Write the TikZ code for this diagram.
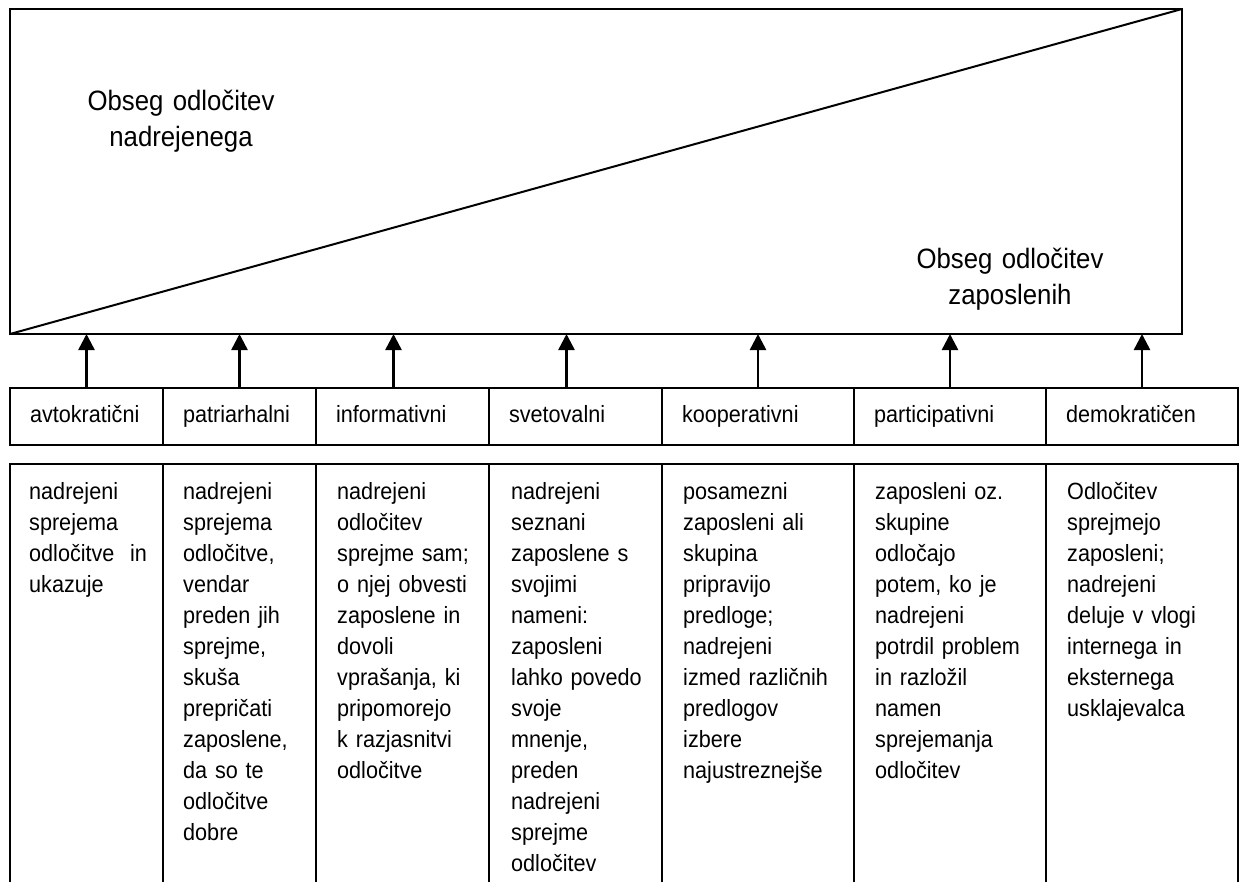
\documentclass[tikz,border=0pt]{standalone}
\usepackage{fontspec}
\setmainfont{Liberation Sans}[FakeStretch=0.92,WordSpace=0.85]
\usepackage{tikz}
\usetikzlibrary{positioning}
\usetikzlibrary{arrows.meta}
\tikzstyle{okvir} = [draw, line width=2pt, inner sep=0pt, outer sep=0pt]
\tikzstyle{slog} = [okvir, minimum height=57pt, inner xsep=20pt, text height=16pt, text depth=5pt, align=left, font=\fontsize{23.5}{31}\selectfont]
\tikzstyle{ozka} = [text width=113pt]
\tikzstyle{srednja} = [text width=133pt]
\tikzstyle{siroka} = [text width=152pt]
\tikzstyle{opis} = [okvir, minimum height=440pt, anchor=north west]
\tikzstyle{besedilo} = [anchor=base west, inner sep=0pt, align=left, text width=165pt, font=\fontsize{23.5}{31}\selectfont]
\tikzstyle{obsegtxt} = [anchor=base, inner sep=0pt, align=center, text width=240pt, font=\fontsize{28}{36}\selectfont]
\tikzstyle{puscica} = [-{Triangle[width=16pt,length=16pt]}, line width=2.5pt]

\begin{document}
\begin{tikzpicture}[x=1pt,y=-1pt]
    \useasboundingbox (0,0) rectangle (1242,881);
    \clip (0,0) rectangle (1242,881);

    % obseg odlocitev
    \node [okvir, minimum width=1172pt, minimum height=325pt] (obseg) at (596,171.5) {};
    \draw [line width=2pt] (obseg.south west) -- (obseg.north east);
    \node [obsegtxt] (nadr) at (181,110) {Obseg odločitev\\nadrejenega};
    \node [obsegtxt] (zap) at (1010,268) {Obseg odločitev\\zaposlenih};

    % slogi vodenja
    \node [slog, ozka, anchor=north west] (avt) at (10,388) {avtokratični};
    \node [slog, ozka, right=0pt of avt] (pat) {patriarhalni};
    \node [slog, srednja, right=0pt of pat] (inf) {informativni};
    \node [slog, srednja, right=0pt of inf] (sve) {svetovalni};
    \node [slog, siroka, right=0pt of sve] (koo) {kooperativni};
    \node [slog, siroka, right=0pt of koo] (par) {participativni};
    \node [slog, siroka, right=0pt of par] (dem) {demokratičen};

    \draw [puscica] (avt.north) -- (avt.north |- obseg.south);
    \draw [puscica] (pat.north) -- (pat.north |- obseg.south);
    \draw [puscica] ([xshift=-9pt]inf.north) -- ([xshift=-9pt]inf.north |- obseg.south);
    \draw [puscica] ([xshift=-9pt]sve.north) -- ([xshift=-9pt]sve.north |- obseg.south);
    \draw [puscica] (koo.north) -- (koo.north |- obseg.south);
    \draw [puscica] (par.north) -- (par.north |- obseg.south);
    \draw [puscica] (dem.north) -- (dem.north |- obseg.south);

    % opisi
    \node [opis, minimum width=153pt] (oavt) at (10,464) {};
    \node [opis, minimum width=153pt, right=0pt of oavt] (opat) {};
    \node [opis, minimum width=173pt, right=0pt of opat] (oinf) {};
    \node [opis, minimum width=173pt, right=0pt of oinf] (osve) {};
    \node [opis, minimum width=192pt, right=0pt of osve] (okoo) {};
    \node [opis, minimum width=192pt, right=0pt of okoo] (opar) {};
    \node [opis, minimum width=192pt, right=0pt of opar] (odem) {};

    \node [besedilo] (tavt) at ([shift={(19,35)}]oavt.north west) {nadrejeni\\sprejema\\odločitve\ \ in\\ukazuje};
    \node [besedilo] (tpat) at ([shift={(20,35)}]opat.north west) {nadrejeni\\sprejema\\odločitve,\\vendar\\preden jih\\sprejme,\\skuša\\prepričati\\zaposlene,\\da so te\\odločitve\\dobre};
    \node [besedilo] (tinf) at ([shift={(21,35)}]oinf.north west) {nadrejeni\\odločitev\\sprejme sam;\\o njej obvesti\\zaposlene in\\dovoli\\vprašanja, ki\\pripomorejo\\k razjasnitvi\\odločitve};
    \node [besedilo] (tsve) at ([shift={(22,35)}]osve.north west) {nadrejeni\\seznani\\zaposlene s\\svojimi\\nameni:\\zaposleni\\lahko povedo\\svoje\\mnenje,\\preden\\nadrejeni\\sprejme\\odločitev};
    \node [besedilo] (tkoo) at ([shift={(21,35)}]okoo.north west) {posamezni\\zaposleni ali\\skupina\\pripravijo\\predloge;\\nadrejeni\\izmed različnih\\predlogov\\izbere\\najustreznejše};
    \node [besedilo] (tpar) at ([shift={(21,35)}]opar.north west) {zaposleni oz.\\skupine\\odločajo\\potem, ko je\\nadrejeni\\potrdil problem\\in razložil\\namen\\sprejemanja\\odločitev};
    \node [besedilo] (tdem) at ([shift={(21,35)}]odem.north west) {Odločitev\\sprejmejo\\zaposleni;\\nadrejeni\\deluje v vlogi\\internega in\\eksternega\\usklajevalca};
\end{tikzpicture}
\end{document}
